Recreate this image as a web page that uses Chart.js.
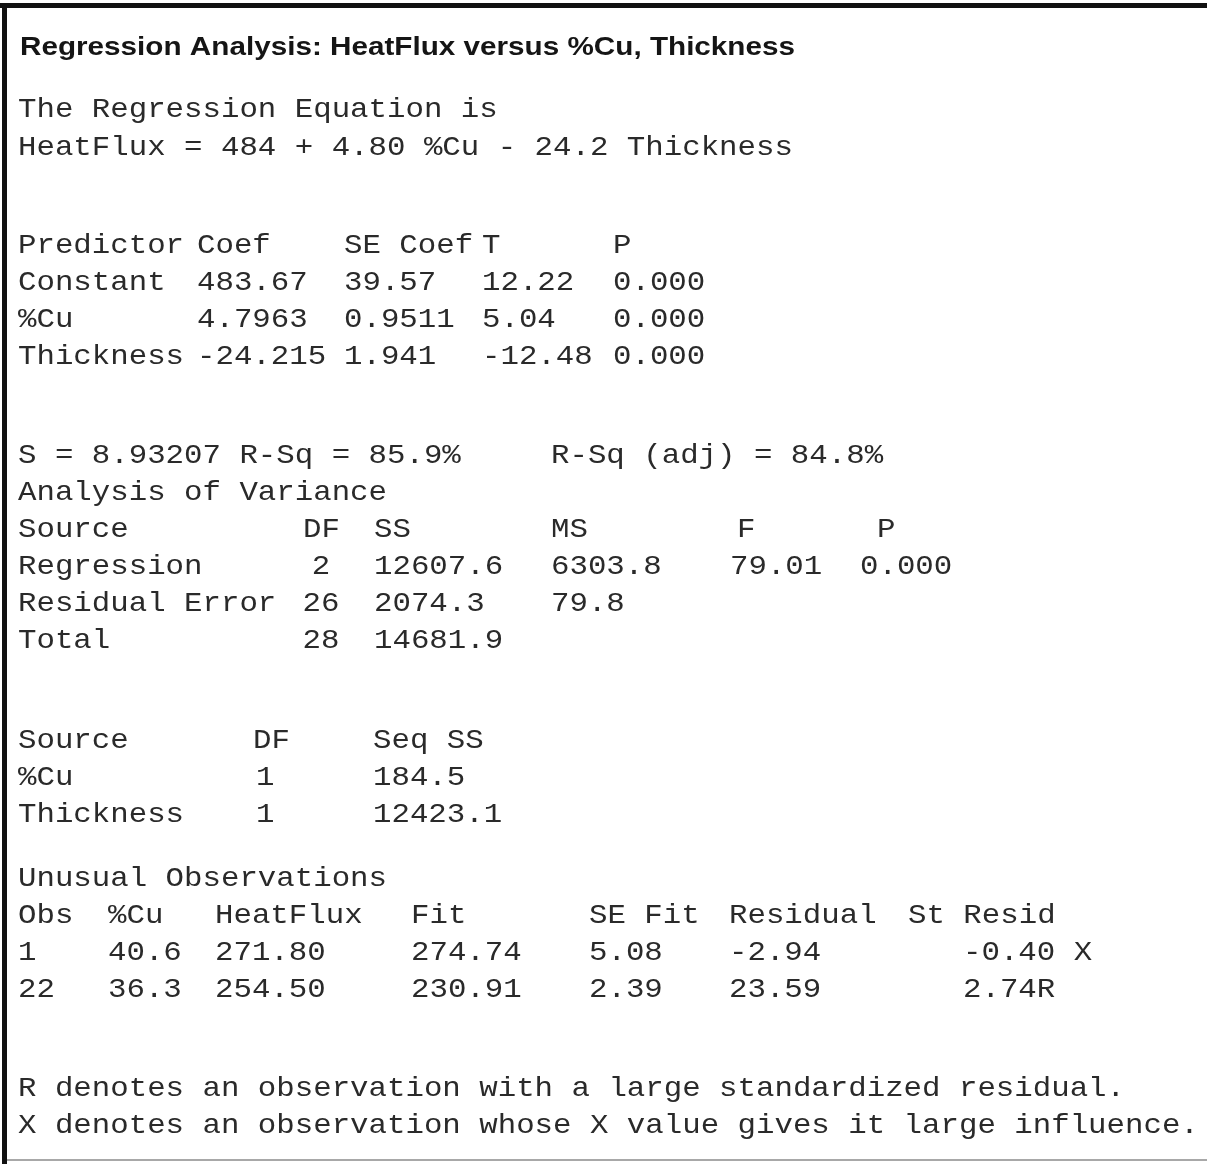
<!DOCTYPE html>
<html>
<head>
<meta charset="utf-8">
<title>Regression Analysis: HeatFlux versus %Cu, Thickness</title>
<script src="https://cdn.jsdelivr.net/npm/chart.js@4.4.1/dist/chart.umd.min.js"></script>
<style>
  html, body { margin: 0; padding: 0; background: #fff; overflow: hidden; }
  canvas { display: block; }
</style>
</head>
<body>
<canvas id="c" width="1207" height="1164"></canvas>
<script>
// --- data (text of the Minitab output) ---
const titleText = 'Regression Analysis: HeatFlux versus %Cu, Thickness';
const equationLines = ['The Regression Equation is', 'HeatFlux = 484 + 4.80 %Cu - 24.2 Thickness'];

const coefHeader = ['Predictor', 'Coef', 'SE Coef', 'T', 'P'];
const predictors = ['Constant', '%Cu', 'Thickness'];
const coefValues = ['483.67', '4.7963', '-24.215'];
const seCoefValues = ['39.57', '0.9511', '1.941'];
const tValues = ['12.22', '5.04', '-12.48'];
const pValues = ['0.000', '0.000', '0.000'];

const fitSummary = ['S = 8.93207 R-Sq = 85.9%', 'R-Sq (adj) = 84.8%'];
const anovaTitle = 'Analysis of Variance';
const anovaHeader = ['Source', 'DF', 'SS', 'MS', 'F', 'P'];
const anovaSources = ['Regression', 'Residual Error', 'Total'];
const anovaDF = ['2', '26', '28'];
const anovaSS = ['12607.6', '2074.3', '14681.9'];
const anovaMS = ['6303.8', '79.8', ''];
const anovaF = ['79.01', '', ''];
const anovaP = ['0.000', '', ''];

const seqHeader = ['Source', 'DF', 'Seq SS'];
const seqSources = ['%Cu', 'Thickness'];
const seqDF = ['1', '1'];
const seqSS = ['184.5', '12423.1'];

const unusualTitle = 'Unusual Observations';
const unusualHeader = ['Obs', '%Cu', 'HeatFlux', 'Fit', 'SE Fit', 'Residual', 'St Resid'];
const obsIds = ['1', '22'];
const obsCu = ['40.6', '36.3'];
const obsHeatFlux = ['271.80', '254.50'];
const obsFit = ['274.74', '230.91'];
const obsSEFit = ['5.08', '2.39'];
const obsResidual = ['-2.94', '23.59'];
const obsStResid = ['-0.40 X', '2.74R'];

const footnotes = [
  'R denotes an observation with a large standardized residual.',
  'X denotes an observation whose X value gives it large influence.'
];

// --- layout (scale units = pixels of the page) ---
const LEFT = 18;
const coefCols = [LEFT, 197, 344, 482, 613];
const anovaCols = [LEFT, 303, 374, 551, 737, 877];
const anovaValCols = [LEFT, 316, 374, 551, 730, 860];
const seqCols = [LEFT, 253, 373];
const seqValCols = [LEFT, 256, 373];
const obsCols = [LEFT, 108, 215, 411, 589, 729, 908];
const obsValCols = [LEFT, 108, 215, 411, 589, 729, 963];

const points = [];
function cell(text, x, y, kind, align) {
  if (text === '') return;
  points.push({ x, y, text, kind: kind || 'mono', align: align || 'left' });
}

cell(titleText, 20, 55, 'title');
equationLines.forEach((t, i) => cell(t, LEFT, 117 + i * 38));

coefHeader.forEach((t, j) => cell(t, coefCols[j], 253));
predictors.forEach((p, i) => {
  const y = 290 + i * 37;
  [p, coefValues[i], seCoefValues[i], tValues[i], pValues[i]].forEach((t, j) => cell(t, coefCols[j], y));
});

cell(fitSummary[0], LEFT, 463);
cell(fitSummary[1], 551, 463);
cell(anovaTitle, LEFT, 500);
anovaHeader.forEach((t, j) => cell(t, anovaCols[j], 537));
anovaSources.forEach((s, i) => {
  const y = 574 + i * 37;
  cell(s, LEFT, y);
  cell(anovaDF[i], anovaValCols[1] + 5, y, 'mono', 'center');
  [anovaSS[i], anovaMS[i], anovaF[i], anovaP[i]].forEach((t, j) => cell(t, anovaValCols[j + 2], y));
});

seqHeader.forEach((t, j) => cell(t, seqCols[j], 748));
seqSources.forEach((s, i) => {
  const y = 785 + i * 37;
  [s, seqDF[i], seqSS[i]].forEach((t, j) => cell(t, seqValCols[j], y));
});

cell(unusualTitle, LEFT, 886);
unusualHeader.forEach((t, j) => cell(t, obsCols[j], 923));
obsIds.forEach((o, i) => {
  const y = 960 + i * 37;
  [o, obsCu[i], obsHeatFlux[i], obsFit[i], obsSEFit[i], obsResidual[i], obsStResid[i]]
    .forEach((t, j) => cell(t, obsValCols[j], y));
});

footnotes.forEach((t, i) => cell(t, LEFT, 1096 + i * 37));

// --- drawing ---
const MONO = '27.5px "Liberation Mono", "Courier New", monospace';
const TITLE = 'bold 26.5px "Liberation Sans", Arial, sans-serif';
const MONO_ADVANCE = 18.45;
const TITLE_WIDTH = 775;

const framePlugin = {
  id: 'frame',
  beforeDraw(chart) {
    const { ctx, width, height } = chart;
    ctx.save();
    ctx.fillStyle = '#ffffff';
    ctx.fillRect(0, 0, width, height);
    ctx.fillStyle = '#111111';
    ctx.fillRect(0, 3, width, 5);
    ctx.fillRect(2, 3, 5, height - 3);
    ctx.fillStyle = '#a8a8a8';
    ctx.fillRect(7, 1159, width - 7, 2);
    ctx.restore();
  }
};

const textPlugin = {
  id: 'cellText',
  afterDatasetsDraw(chart) {
    const { ctx } = chart;
    const meta = chart.getDatasetMeta(0);
    ctx.save();
    ctx.font = MONO;
    const monoScale = MONO_ADVANCE / ctx.measureText('M').width;
    ctx.font = TITLE;
    const titleScale = TITLE_WIDTH / ctx.measureText(titleText).width;
    ctx.textBaseline = 'alphabetic';
    meta.data.forEach((el, i) => {
      const p = chart.data.datasets[0].data[i];
      const isTitle = p.kind === 'title';
      ctx.font = isTitle ? TITLE : MONO;
      ctx.fillStyle = isTitle ? '#151515' : '#2a2a2a';
      ctx.textAlign = p.align;
      ctx.save();
      ctx.translate(el.x, el.y);
      ctx.scale(isTitle ? titleScale : monoScale, 1);
      ctx.fillText(p.text, 0, 0);
      ctx.restore();
    });
    ctx.restore();
  }
};

new Chart(document.getElementById('c'), {
  type: 'scatter',
  data: {
    datasets: [{ data: points, pointRadius: 0, pointHoverRadius: 0 }]
  },
  options: {
    responsive: false,
    animation: false,
    devicePixelRatio: 1,
    layout: { padding: 0 },
    plugins: { legend: { display: false }, tooltip: { enabled: false } },
    scales: {
      x: { type: 'linear', min: 0, max: 1207, display: false },
      y: { type: 'linear', min: 0, max: 1164, reverse: true, display: false }
    }
  },
  plugins: [framePlugin, textPlugin]
});
</script>
</body>
</html>
